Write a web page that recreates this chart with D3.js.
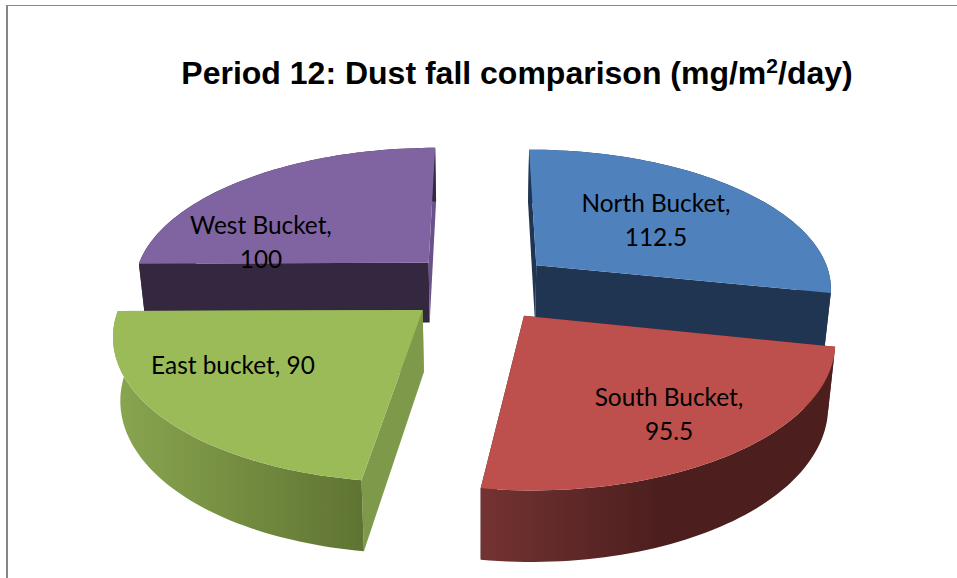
<!DOCTYPE html>
<html><head><meta charset="utf-8">
<script src="https://cdn.jsdelivr.net/npm/d3@7"></script>
<style>html,body{margin:0;padding:0;background:#fff}svg{display:block}</style>
</head><body><div id="chart"></div>
<script>
const categories = ["North Bucket", "South Bucket", "East bucket", "West Bucket"];
const values = [112.5, 95.5, 90, 100];
const topColors = ["#4f81bd", "#bd4f4c", "#9bbb59", "#8064a2"];
const startCutColors = ["#1f3552", "#4c1f1e", "#7f994b", "#33283f"];
const endCutColors = ["#1f3552", "#4c1f1e", "#7f994b", "#6a518c"];
const wallStops = [
  [["0%", "#1f3552"], ["100%", "#1f3552"]],
  [["0%", "#733332"], ["50%", "#4c1f1e"], ["100%", "#4c1f1e"]],
  [["0%", "#8aa650"], ["100%", "#5f7432"]],
  [["0%", "#33283f"], ["100%", "#33283f"]]
];
const labelLines = [["North Bucket,", "112.5"], ["South Bucket,", "95.5"], ["East bucket, 90"], ["West Bucket,", "100"]];
const labelAt = [[656, 212], [669, 406], [233, 374], [261, 234]];

const W = 957, H = 578, cx = 480, cy = 286.5, explode = 0.25, persp = 0.15, depth = 61;
const svg = d3.select("#chart").append("svg").attr("width", W).attr("height", H);
const defs = svg.append("defs");
const sx = d3.scaleLinear().domain([-1, 1]).range([-297, 297]);
const sy = d3.scaleLinear().domain([-1, 1]).range([-138.7, 138.7]);
const pathLine = d3.line();

svg.append("path").attr("d", `M8,5.5H${W}`).attr("fill", "none").attr("stroke", "#868686").attr("stroke-width", 1);
svg.append("rect").attr("x", 6).attr("y", 5).attr("width", 2).attr("height", H - 5).attr("fill", "#868686");

const titleText = svg.append("text").attr("x", 517).attr("y", 84).attr("text-anchor", "middle")
  .attr("font-family", "'Liberation Sans'").attr("font-weight", "bold").attr("font-size", 32).attr("fill", "#000");
titleText.append("tspan").text("Period 12: Dust fall comparison (mg/m");
titleText.append("tspan").attr("font-size", 21).attr("dy", -11).text("2");
titleText.append("tspan").attr("dy", 11).text("/day)");

const pieData = d3.pie().sort(null).value(d => d)(values);

function topPoint(x, y) {
  const f = 1 / (1 - persp * y);
  return [cx + sx(x) * f, cy + sy(y) * f];
}
function basePoint(x, y) {
  const f = 1 / (1 - persp * y);
  return [cx + sx(x) * f * 0.98, cy + sy(y) * f + depth * Math.pow(f, 0.8)];
}

function drawSlice(i) {
  const p = pieData[i];
  const mid = (p.startAngle + p.endAngle) / 2;
  const ox = explode * Math.sin(mid), oy = -explode * Math.cos(mid);
  const plane = d3.range(0, 61).map(k => {
    const a = p.startAngle + (p.endAngle - p.startAngle) * k / 60;
    return [ox + Math.sin(a), oy - Math.cos(a)];
  });
  const tArc = plane.map(d => topPoint(d[0], d[1]));
  const bArc = plane.map(d => basePoint(d[0], d[1]));
  const tApex = topPoint(ox, oy), bApex = basePoint(ox, oy);
  const g = svg.append("g").attr("class", "slice");

  const id = "wall" + i;
  const xs = tArc.map(d => d[0]);
  const grad = defs.append("linearGradient").attr("id", id).attr("gradientUnits", "userSpaceOnUse")
    .attr("x1", d3.min(xs)).attr("x2", d3.max(xs)).attr("y1", 0).attr("y2", 0);
  wallStops[i].forEach(s => grad.append("stop").attr("offset", s[0]).attr("stop-color", s[1]));

  g.append("path").attr("d", pathLine([tApex, tArc[0], bArc[0], bApex]) + "Z").attr("fill", startCutColors[i]);
  g.append("path").attr("d", pathLine([tApex, tArc[60], bArc[60], bApex]) + "Z").attr("fill", endCutColors[i]);
  g.append("path").attr("d", pathLine(tArc.concat(bArc.slice().reverse())) + "Z").attr("fill", `url(#${id})`);
  g.append("path").attr("d", pathLine([tApex].concat(tArc)) + "Z").attr("fill", topColors[i]);
}

// Back slices first, front slices last
[3, 0, 2, 1].forEach(drawSlice);

categories.forEach((c, i) => {
  const t = svg.append("text").attr("font-family", "Lato").attr("font-size", 24.4).attr("fill", "#000")
    .attr("text-anchor", "middle").attr("x", labelAt[i][0]).attr("y", labelAt[i][1]);
  labelLines[i].forEach((l, k) => {
    t.append("tspan").attr("x", labelAt[i][0]).attr("dy", k ? 33.5 : 0).text(l);
  });
});
</script></body></html>
